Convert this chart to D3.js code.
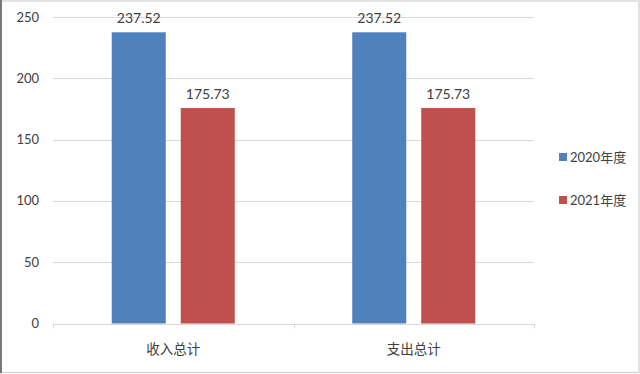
<html>
    <head>
       <style>
body {
    margin: 0;
    background: #fff;
}
text {
    font-family: Lato, "Noto Sans CJK SC", sans-serif;
    fill: #404040;
}
       </style>
    </head>
    <body>
        <svg></svg>
        <script src="https://d3js.org/d3.v7.min.js"></script>
        <script>
// chart values
var categories = ["收入总计", "支出总计"];
var seriesNames = ["2020年度", "2021年度"];
var values2020 = [237.52, 237.52];
var values2021 = [175.73, 175.73];
var yTicks = [0, 50, 100, 150, 200, 250];
var colors = ["#4F81BD", "#C0504D"];

var width = 640, height = 374;
var margin = {left: 53, right: 106, top: 17, bottom: 50};

var svg = d3.select("svg")
    .attr("width", width)
    .attr("height", height);

// frame
svg.append("rect")
    .attr("x", 0.5).attr("y", 1)
    .attr("width", width - 1.5).attr("height", height - 2.5)
    .attr("fill", "none").attr("stroke", "#d9d9d9").attr("stroke-width", 1.5);
svg.append("line")
    .attr("x1", 1).attr("x2", 1).attr("y1", 0).attr("y2", height - 1)
    .attr("stroke", "#555").attr("stroke-width", 1.5);

var x = d3.scaleBand()
    .domain(categories)
    .range([margin.left, width - margin.right]);

var xi = d3.scaleBand()
    .domain(seriesNames)
    .range([0, x.bandwidth()])
    .paddingInner(0.217)
    .paddingOuter(0.851);

var y = d3.scaleLinear()
    .domain([0, 250])
    .range([height - margin.bottom - 0.5, margin.top]);

// grid
svg.append("g")
    .selectAll("line")
    .data(yTicks)
    .join("line")
    .attr("x1", margin.left).attr("x2", width - margin.right)
    .attr("y1", function(d) { return Math.round(y(d)) + 0.5; })
    .attr("y2", function(d) { return Math.round(y(d)) + 0.5; })
    .attr("stroke", "#d9d9d9");

svg.append("g")
    .selectAll("text")
    .data(yTicks)
    .join("text")
    .attr("x", 39)
    .attr("y", function(d) { return y(d); })
    .attr("dy", "0.35em")
    .attr("text-anchor", "end")
    .style("font-size", "13px")
    .text(function(d) { return d; });

// x axis tick marks
var xTickPos = [margin.left, margin.left + x.bandwidth(), width - margin.right];
svg.append("g")
    .selectAll("line")
    .data(xTickPos)
    .join("line")
    .attr("x1", function(d) { return Math.round(d) + 0.5; })
    .attr("x2", function(d) { return Math.round(d) + 0.5; })
    .attr("y1", y(0)).attr("y2", y(0) + 5)
    .attr("stroke", "#d9d9d9");

var series = [values2020, values2021];

var groups = svg.append("g")
    .selectAll("g")
    .data(categories)
    .join("g")
    .attr("transform", function(d) { return "translate(" + x(d) + ",0)"; });

groups.selectAll("rect")
    .data(function(d, i) {
        return seriesNames.map(function(s, j) { return {s: s, v: series[j][i], c: colors[j]}; });
    })
    .join("rect")
    .attr("x", function(d) { return xi(d.s); })
    .attr("y", function(d) { return y(d.v); })
    .attr("width", xi.bandwidth())
    .attr("height", function(d) { return y(0) - y(d.v); })
    .attr("fill", function(d) { return d.c; });

groups.selectAll("text")
    .data(function(d, i) {
        return seriesNames.map(function(s, j) { return {s: s, v: series[j][i]}; });
    })
    .join("text")
    .attr("x", function(d) { return xi(d.s) + xi.bandwidth() / 2; })
    .attr("y", function(d) { return y(d.v) - 9; })
    .attr("text-anchor", "middle")
    .style("font-size", "14px")
    .text(function(d) { return d.v.toFixed(2); });

// category labels
svg.append("g")
    .selectAll("text")
    .data(categories)
    .join("text")
    .attr("x", function(d) { return x(d) + x.bandwidth() / 2; })
    .attr("y", 354)
    .attr("text-anchor", "middle")
    .style("font-size", "13.5px")
    .text(function(d) { return d; });

// legend
var legend = svg.append("g")
    .selectAll("g")
    .data(seriesNames)
    .join("g")
    .attr("transform", function(d, i) { return "translate(559," + (157 + i * 43) + ")"; });

legend.append("rect")
    .attr("x", 0).attr("y", -4)
    .attr("width", 8).attr("height", 8)
    .attr("fill", function(d, i) { return colors[i]; });

legend.append("text")
    .attr("x", 11)
    .attr("dy", "0.35em")
    .style("font-size", "13px")
    .text(function(d) { return d; });
        </script>
    </body>
</html>
